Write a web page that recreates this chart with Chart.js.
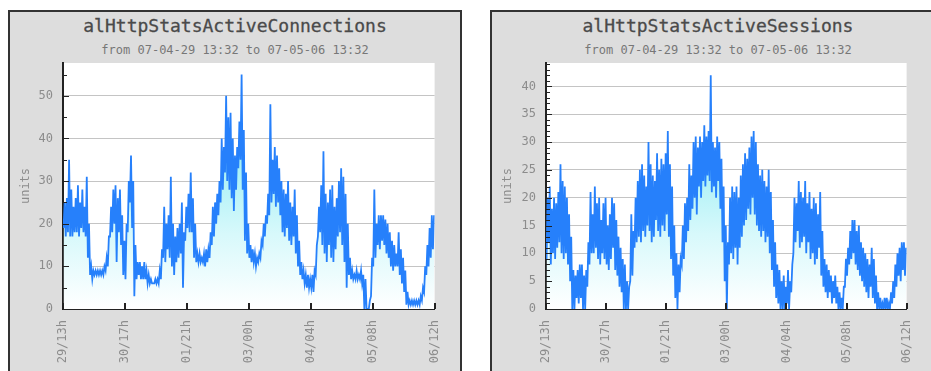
<!DOCTYPE html>
<html>
<head>
<meta charset="utf-8">
<title>alHttpStats</title>
<script src="https://cdn.jsdelivr.net/npm/chart.js@4/dist/chart.umd.min.js"></script>
<style>
  html, body { margin: 0; padding: 0; background: #ffffff; width: 931px; height: 371px; overflow: hidden; }
  .panel { position: absolute; top: 10px; height: 400px; background: #dddddd; border: 2px solid #333333; box-sizing: border-box; }
  .title { position: absolute; font-family: "DejaVu Sans Mono", monospace; white-space: nowrap; transform: translate(-50%, -50%); }
  .main { font-size: 18px; color: #4a4a4a; top: 25px; -webkit-text-stroke: 0.3px #4a4a4a; }
  .sub { font-size: 12px; color: #777777; top: 50px; }
  canvas { position: absolute; }
</style>
</head>
<body>
<div class="panel" style="left:8px; width:454px;"></div>
<div class="panel" style="left:490px; width:460px;"></div>

<div class="title main" style="left:235px;">alHttpStatsActiveConnections</div>
<div class="title sub" style="left:235px;">from 07-04-29 13:32 to 07-05-06 13:32</div>
<div class="title main" style="left:718px;">alHttpStatsActiveSessions</div>
<div class="title sub" style="left:718px;">from 07-04-29 13:32 to 07-05-06 13:32</div>

<canvas id="conn" width="450" height="359" style="left:10px; top:12px;"></canvas>
<canvas id="sess" width="440" height="359" style="left:492px; top:12px;"></canvas>

<script>
// Time axis: hours since 07-04-29 13:32, labelled every 28 hours
const tickLabels = ['29/13h', '30/17h', '01/21h', '03/00h', '04/04h', '05/08h', '06/12h'];
const spanHours = 168;

// Hourly low / high envelope of active connections (one entry per hour)
const connLow = [
  19,17,18,17,17,18,18,17,19,18,17,12, 8, 7, 8, 8, 8, 8, 8, 9,10,17,18,20,
  11,18,15, 8, 7,18,25,19, 3, 7, 8, 7, 7, 7, 6, 6, 6, 6, 6, 6, 7,12,11,14,
  12,10, 8,11,12,13, 5,16,19,18,18,12,11,11,11,11,10,11,12,15,17,20,22,25,
  28,32,30,28,26,23,28,33,35,28,16,13,12,11,11,10,11,12,15,17,20,22,25,27,
  24,25,22,18,17,19,16,15,17,13,10, 8, 7, 6, 5, 5, 5, 4, 8,17,18,15,13,11,
  15,12,11,14,17,18,15,11, 5, 8, 7, 7, 7, 7, 7, 6, 0, 0, 0, 3,10,12,15,14,
  16,15,13,12,10, 9,10,10, 8, 6, 4, 1, 1, 1, 1, 1, 1, 1, 2, 4, 8,10,12,14
];
const connHigh = [
  25,26,35,28,24,26,29,25,28,24,31,20,10, 9, 9, 9, 9, 9,10,12,17,24,28,29,
  26,28,22,16,20,30,36,30,15,11,11,10,11, 9, 8, 7, 6, 7, 7, 9,14,24,20,22,
  31,20,17,19,20,25,18,24,27,32,26,20,13,13,12,13,14,14,18,24,25,27,30,40,
  38,50,45,46,40,36,38,44,55,42,32,20,15,14,13,12,13,16,20,22,27,48,35,38,
  36,33,30,28,27,30,25,24,28,22,16,11, 9, 8, 8, 7, 8, 9,15,24,29,37,27,25,
  28,29,24,26,30,33,31,27,20,12, 9, 8, 9, 8, 9, 8, 7, 0, 2,12,28,20,22,22,
  22,21,20,18,16,15,13,18,14,12, 9, 4, 2, 2, 2, 2, 2, 3, 5,10,15,19,22,22
];

// Hourly low / high envelope of active sessions (one entry per hour)
const sessLow = [
   9,12, 8,10, 9,11,12,10, 9,10, 8, 5, 0, 0, 2, 1, 2, 0, 0, 4, 8,10,10,11,
   9, 8,10, 9, 8, 7, 9,11, 7, 6, 4, 3, 0, 0, 0, 5, 6,11,12,13,12,14,13,15,
  14,12,13,16,14,13,15,14,17,13, 9, 6, 2, 0, 3, 8, 9,12,14,16,18,20,17,22,
  20,23,22,24,23,21,22,20,23,18,12, 5, 0, 8,10, 9,11, 8,11,13,15,16,18,17,
  20,17,15,14,13,14,12,13,10, 7, 4, 2, 1, 0, 0, 0, 1, 0, 3,10,12,14,11,12,
  13,10,12, 9,10, 8, 9,11, 6, 4, 3, 2, 3, 1, 2, 1, 0, 0, 0, 4, 6, 8, 9,10,
   8, 7, 6, 5, 4, 3, 2, 4, 2, 1, 0, 0, 0, 0, 0, 0, 0, 1, 2, 4, 6, 5, 7, 6
];
const sessHigh = [
  20,22,18,20,19,21,26,23,22,20,17,13, 7, 6, 7, 8, 8, 6, 7,12,21,17,22,19,
  20,16,19,20,15,17,20,19,16,13,11, 9, 8, 5, 4,17,14,20,23,25,26,24,22,30,
  26,24,23,28,25,27,26,28,32,26,22,15,10, 8, 9,15,19,20,26,24,30,31,29,31,
  30,33,31,32,42,30,29,31,30,27,22,15,12,20,22,21,22,20,24,26,28,27,29,31,
  32,30,26,24,25,23,22,25,21,16,12, 8, 7, 5, 6, 4, 7, 5, 8,20,19,23,21,20,
  23,19,21,18,20,19,17,21,14, 9, 8, 7, 6, 5, 6, 4, 3, 2, 4, 9,11,14,16,16,
  14,15,12,11,10, 9, 8,11, 9, 6, 3, 2, 1, 2, 2, 1, 3, 5, 8,10,11,12,12,11
];

// Interleave low and high values so the line swings between them each hour
function envelopePoints(low, high) {
  const pts = [];
  for (let i = 0; i < low.length; i++) {
    pts.push({ x: i + 0.25, y: low[i] });
    pts.push({ x: i + 0.75, y: high[i] });
  }
  return pts;
}

Chart.defaults.font.family = '"DejaVu Sans Mono", monospace';
Chart.defaults.font.size = 12;
Chart.defaults.color = '#8c8c8c';

// White plot area, inward tick marks on both axes
const plotDecor = {
  id: 'plotDecor',
  beforeDraw(chart) {
    const { ctx, chartArea: a } = chart;
    ctx.save();
    ctx.fillStyle = '#ffffff';
    ctx.fillRect(a.left, a.top, a.right - a.left, a.bottom - a.top);
    ctx.restore();
  },
  afterDraw(chart, args, opts) {
    const { ctx, chartArea: a, scales: { x, y } } = chart;
    ctx.save();
    ctx.strokeStyle = '#222222';
    ctx.lineWidth = 1;
    const n = Math.floor(y.max / opts.minor);
    for (let k = 1; k <= n; k++) {
      const v = k * opts.minor;
      const py = Math.round(y.getPixelForValue(v)) + 0.5;
      const len = (v % opts.major === 0) ? 6 : 4;
      ctx.beginPath();
      ctx.moveTo(a.left, py);
      ctx.lineTo(a.left + len, py);
      ctx.stroke();
    }
    ctx.lineWidth = 2;
    x.ticks.forEach(t => {
      const px = Math.round(x.getPixelForValue(t.value));
      ctx.beginPath();
      ctx.moveTo(px, a.bottom);
      ctx.lineTo(px, a.bottom - 6);
      ctx.stroke();
    });
    ctx.restore();
  }
};

function fillGradient(context) {
  const { ctx, chartArea } = context.chart;
  if (!chartArea) return 'rgba(160,240,245,0.6)';
  const g = ctx.createLinearGradient(0, chartArea.bottom, 0, chartArea.top);
  g.addColorStop(0, '#ffffff');
  g.addColorStop(0.3, '#d8f9fb');
  g.addColorStop(0.6, '#a4f0f5');
  g.addColorStop(1, '#38dcea');
  return g;
}

function makeChart(id, low, high, yMax, yStep, minorStep, yAxisWidth, rightPad) {
  return new Chart(document.getElementById(id), {
    type: 'line',
    data: {
      datasets: [{
        data: envelopePoints(low, high),
        borderColor: '#2680fb',
        borderWidth: 1.8,
        pointRadius: 0,
        tension: 0,
        fill: 'origin',
        backgroundColor: fillGradient
      }]
    },
    options: {
      responsive: false,
      animation: false,
      layout: { padding: { left: 0, right: rightPad, top: 51, bottom: 0 } },
      plugins: {
        legend: { display: false },
        tooltip: { enabled: false },
        plotDecor: { minor: minorStep, major: yStep }
      },
      scales: {
        x: {
          type: 'linear',
          min: 0,
          max: spanHours,
          grid: { display: false, drawTicks: false },
          border: { display: true, color: '#222222', width: 2 },
          ticks: {
            stepSize: 28,
            autoSkip: false,
            minRotation: 90,
            maxRotation: 90,
            padding: 11,
            callback: (value, index) => tickLabels[index]
          },
          afterFit: s => { s.height = 62; }
        },
        y: {
          min: 0,
          max: yMax,
          grid: { color: '#c4c4c4', lineWidth: 1, drawTicks: false },
          border: { display: true, color: '#222222', width: 2 },
          ticks: { stepSize: yStep, padding: 10 },
          title: { display: true, text: 'units', color: '#8c8c8c', padding: { top: 9, bottom: 0 } },
          afterBuildTicks: s => { s.ticks = s.ticks.filter(t => Math.abs(t.value % yStep) < 1e-9); },
          afterFit: s => { s.width = yAxisWidth; }
        }
      }
    },
    plugins: [plotDecor]
  });
}

makeChart('conn', connLow, connHigh, 57.7, 10, 5, 53, 22);
makeChart('sess', sessLow, sessHigh, 44.2, 5, 1, 54, 10);
</script>
</body>
</html>
